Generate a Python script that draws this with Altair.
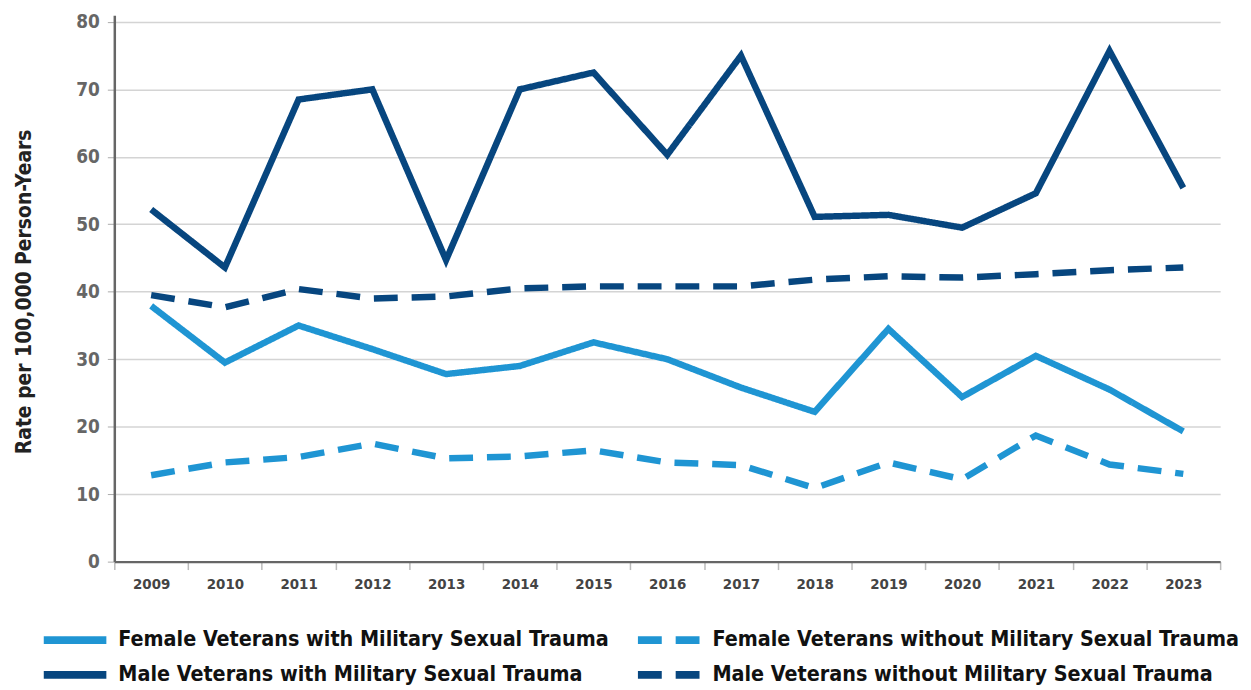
import altair as alt
import pandas as pd

years = [str(y) for y in range(2009, 2024)]
female_with = [37.9, 29.5, 35.0, 31.5, 27.8, 29.0, 32.5, 30.0, 25.8, 22.2, 34.5, 24.4, 30.5, 25.5, 19.3]
female_without = [12.8, 14.7, 15.5, 17.5, 15.3, 15.6, 16.5, 14.7, 14.3, 10.9, 14.7, 12.2, 18.7, 14.4, 13.0]
male_with = [52.2, 43.6, 68.5, 70.0, 44.7, 70.0, 72.5, 60.3, 75.0, 51.1, 51.4, 49.5, 54.6, 75.7, 55.4]
male_without = [39.5, 37.7, 40.4, 39.0, 39.3, 40.5, 40.8, 40.8, 40.8, 41.8, 42.3, 42.1, 42.6, 43.2, 43.6]

series_names = [
    "Female Veterans with Military Sexual Trauma",
    "Male Veterans with Military Sexual Trauma",
    "Female Veterans without Military Sexual Trauma",
    "Male Veterans without Military Sexual Trauma",
]
series_values = [female_with, male_with, female_without, male_without]
colors = ["#1f95d3", "#07467f", "#1f95d3", "#07467f"]
dashes = [[1, 0], [1, 0], [24, 14], [24, 14]]

rows = []
for name, vals in zip(series_names, series_values):
    for y, v in zip(years, vals):
        rows.append({"year": y, "rate": v, "series": name})
df = pd.DataFrame(rows)

FONT = "Liberation Sans Narrow, DejaVu Sans Condensed, sans-serif"

legend = alt.Legend(
    title=None,
    orient="none",
    legendX=-75,
    legendY=616,
    columns=2,
    columnPadding=25,
    rowPadding=9,
    clipHeight=26,
    symbolType="stroke",
    symbolSize=3969,
    symbolStrokeWidth=8,
    labelFont=FONT,
    labelFontSize=21.5,
    labelFontWeight="bold",
    labelColor="#111111",
    labelOffset=8,
    labelLimit=800,
)

chart = (
    alt.Chart(df)
    .mark_line(strokeWidth=6.5)
    .encode(
        x=alt.X(
            "year:O",
            scale=alt.Scale(type="band", paddingInner=0, paddingOuter=0),
            bandPosition=0.5,
            axis=alt.Axis(
                title=None,
                labelAngle=0,
                tickBand="extent",
                tickSize=8,
                tickColor="#bbbbbb",
                tickWidth=1.5,
                domainColor="#666666",
                domainWidth=2.5,
                labelFont=FONT,
                labelFontSize=15,
                labelFontWeight="bold",
                labelColor="#444444",
                labelPadding=7,
            ),
        ),
        y=alt.Y(
            "rate:Q",
            scale=alt.Scale(domain=[0, 81], nice=False),
            axis=alt.Axis(
                title="Rate per 100,000 Person-Years",
                values=[0, 10, 20, 30, 40, 50, 60, 70, 80],
                titleFont=FONT,
                titleFontSize=21,
                titleFontWeight="bold",
                titleColor="#222222",
                titleAngle=270,
                titleX=-90,
                titleY=278,
                titleAlign="center",
                titleBaseline="middle",
                tickSize=7,
                tickColor="#aaaaaa",
                domainColor="#666666",
                domainWidth=2.5,
                gridColor="#d4d4d4",
                gridWidth=1.5,
                labelFont=FONT,
                labelFontSize=19,
                labelFontWeight="bold",
                labelColor="#666666",
                labelPadding=8,
            ),
        ),
        color=alt.Color(
            "series:N",
            scale=alt.Scale(domain=series_names, range=colors),
            legend=legend,
        ),
        strokeDash=alt.StrokeDash(
            "series:N",
            scale=alt.Scale(domain=series_names, range=dashes),
            legend=legend,
        ),
    )
    .properties(
        width=1113,
        height=550,
        autosize="none",
        padding={"left": 107, "top": 5, "right": 23, "bottom": 127},
    )
    .configure_view(stroke=None)
)

chart.save("out.html", embed_options={"renderer": "svg", "actions": False})
